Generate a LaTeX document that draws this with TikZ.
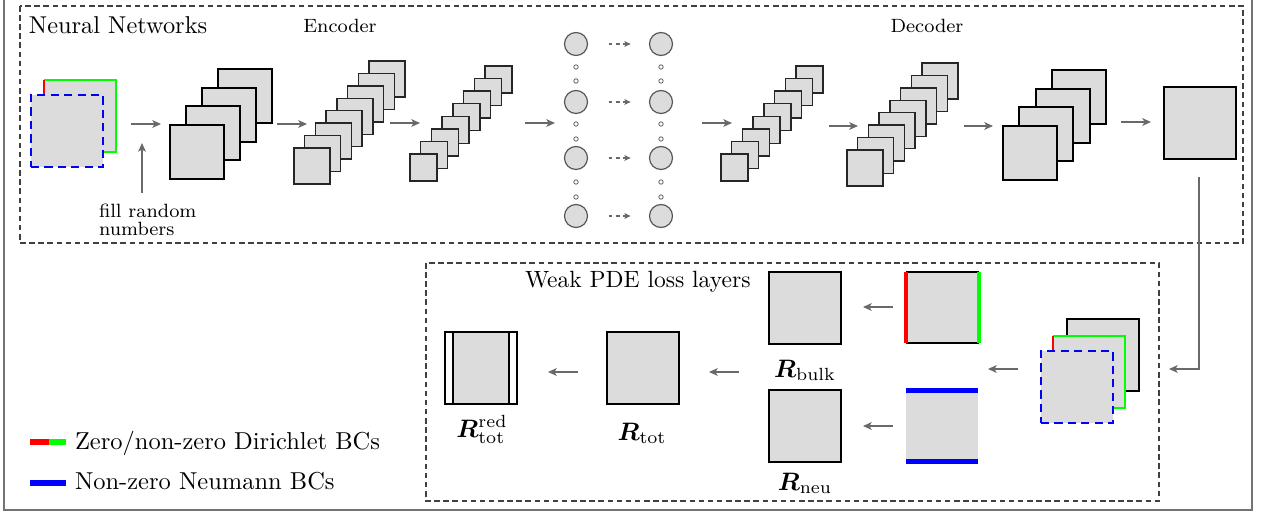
\RequirePackage{fix-cm}
\documentclass[tikz,border=0pt]{standalone}
\usepackage{bm}
\usepackage{fontspec}
\usetikzlibrary{arrows.meta}
\definecolor{fillg}{RGB}{220,220,220}
\definecolor{arrg}{RGB}{105,105,105}
\definecolor{bcgreen}{RGB}{0,255,0}
\definecolor{bcred}{RGB}{255,0,0}
\definecolor{bcblue}{RGB}{0,0,255}
\newcommand\pu{0.41667pt}
\begin{document}
\begin{tikzpicture}[x=0.41667pt,y=-0.41667pt,
  fmap/.style={draw=black, fill=fillg, line width=0.65pt, inner sep=0pt, outer sep=0pt, anchor=north west},
  thinmap/.style={fmap, line width=0.55pt, draw=black!85},
  arr/.style={draw=arrg, line width=0.6pt, -{Stealth[length=3.6pt,width=3.2pt,inset=0.9pt]}},
  darr/.style={draw=arrg, line width=0.5pt, dash pattern=on 1.6pt off 1.4pt, shorten <=8.5pt, shorten >=7.6pt, -{Stealth[length=2.6pt,width=2.4pt,inset=0.6pt]}},
  lat/.style={circle, draw=black!65, fill=fillg, line width=0.5pt, minimum size=23*\pu, inner sep=0pt},
  dotn/.style={circle, draw=black!60, fill=white, line width=0.35pt, minimum size=4.4*\pu, inner sep=0pt},
  boxdash/.style={draw=black!75, line width=0.45pt, dash pattern=on 2.3pt off 1.5pt},
  bcdash/.style={dash pattern=on 3.4pt off 2.2pt},
  txt/.style={inner sep=0pt, outer sep=0pt},
  rlab/.style={txt, anchor=base, font=\fontsize{10.5}{12}\selectfont}
]
\useasboundingbox (0,0) rectangle (1262,512);
% outer frame
\draw[black!55, line width=0.5pt] (4,0) -- (4,510) -- (1252,510) -- (1252,0);
% dashed boxes
\draw[boxdash] (20,6) rectangle (1243,243);
\draw[boxdash] (426,263) rectangle (1159,501);
% titles
\node[txt, anchor=base west, font=\fontsize{10.15}{12}\selectfont] (tnn) at (29,33) {Neural Networks};
\node[txt, anchor=base, font=\fontsize{8}{9.6}\selectfont] (tenc) at (340,32) {Encoder};
\node[txt, anchor=base, font=\fontsize{8}{9.6}\selectfont] (tdec) at (927,32) {Decoder};
\node[txt, anchor=base west, font=\fontsize{9.8}{11}\selectfont] (twk) at (525,287) {Weak PDE loss layers};
\node[txt, anchor=north west, align=left, font=\fontsize{8}{7.5}\selectfont] (tfill) at (99,204) {fill random\\numbers};
% input (top-left)
\node[fmap, draw=none, minimum size=72*\pu] (inb) at (44,80) {};
\draw[bcgreen, line width=1.2pt] (inb.north west) -- (inb.north east) -- (inb.south east) -- (inb.south west);
\draw[bcred, line width=1.2pt] (inb.north west) -- (inb.south west);
\node[fmap, draw=bcblue, line width=1.2pt, bcdash, minimum size=72*\pu] (inf) at (31,95) {};
% encoder stacks
\foreach \i in {3,2,1,0} \node[fmap, line width=0.7pt, minimum size=54*\pu] (sa\i) at ({170+16*\i},{125-18.67*\i}) {};
\foreach \i in {7,6,...,0} \node[thinmap, minimum size=36*\pu] (sb\i) at ({294+10.71*\i},{148-12.43*\i}) {};
\foreach \i in {7,6,...,0} \node[thinmap, minimum size=27*\pu] (sc\i) at ({410+10.71*\i},{154-12.57*\i}) {};
% latent
\foreach \j/\y in {1/44,2/102,3/158,4/216} {
  \node[lat] (l\j) at (576,\y) {};
  \node[lat] (r\j) at (661,\y) {};
  \draw[darr] (l\j) -- (r\j);
}
\foreach \y in {67,81,124,139,182,197} {
  \node[dotn] (dl\y) at (576,\y) {};
  \node[dotn] (dr\y) at (661,\y) {};
}
% decoder stacks
\foreach \i in {7,6,...,0} \node[thinmap, minimum size=27*\pu] (sd\i) at ({721+10.71*\i},{154-12.57*\i}) {};
\foreach \i in {7,6,...,0} \node[thinmap, minimum size=36*\pu] (se\i) at ({847+10.71*\i},{150-12.43*\i}) {};
\foreach \i in {3,2,1,0} \node[fmap, line width=0.7pt, minimum size=54*\pu] (sf\i) at ({1003+16.33*\i},{126-18.67*\i}) {};
% output
\node[fmap, line width=0.9pt, minimum size=72*\pu] (out) at (1164,87) {};
% bottom-right input stack
\node[fmap, line width=0.8pt, minimum size=72*\pu] (bib) at (1067,319) {};
\node[fmap, draw=none, minimum size=72*\pu] (bim) at (1053,336) {};
\draw[bcgreen, line width=1.2pt] (bim.north west) -- (bim.north east) -- (bim.south east) -- (bim.south west);
\draw[bcred, line width=1.2pt] (bim.north west) -- (bim.south west);
\node[fmap, draw=bcblue, line width=1.2pt, bcdash, minimum size=72*\pu] (bif) at (1041,351) {};
% bulk BC square
\node[fmap, draw=none, minimum width=73*\pu, minimum height=71*\pu] (bbc) at (906,272) {};
\draw[black, line width=0.7pt] (bbc.north west) -- (bbc.north east);
\draw[black, line width=0.7pt] (bbc.south west) -- (bbc.south east);
\draw[bcred, line width=2pt] (bbc.north west) -- (bbc.south west);
\draw[bcgreen, line width=2pt] (bbc.north east) -- (bbc.south east);
% Neumann BC square
\node[fmap, draw=none, minimum width=72*\pu, minimum height=76*\pu] (nbc) at (906,388) {};
\draw[bcblue, line width=2.1pt] ([yshift=-2.5*\pu]nbc.north west) -- ([yshift=-2.5*\pu]nbc.north east);
\draw[bcblue, line width=2.1pt] ([yshift=2.5*\pu]nbc.south west) -- ([yshift=2.5*\pu]nbc.south east);
% residual squares
\node[fmap, line width=0.8pt, minimum size=72*\pu] (rbulk) at (769,272) {};
\node[fmap, line width=0.8pt, minimum size=72*\pu] (rneu) at (769,390) {};
\node[fmap, line width=0.8pt, minimum size=72*\pu] (rtot) at (607,332) {};
\node[fmap, draw=none, fill=white, minimum size=72*\pu] (rred) at (445,332) {};
\fill[fillg] ([xshift=8*\pu]rred.north west) rectangle ([xshift=-8*\pu]rred.south east);
\draw[black, line width=0.45pt] ([xshift=8*\pu]rred.north west) -- ([xshift=8*\pu]rred.south west);
\draw[black, line width=0.45pt] ([xshift=-8*\pu]rred.north east) -- ([xshift=-8*\pu]rred.south east);
\draw[black, line width=0.8pt] (rred.north west) rectangle (rred.south east);
% labels
\node[rlab] (lbulk) at (805,377) {$\bm{R}_{\mathrm{bulk}}$};
\node[rlab] (lneu) at (805,490) {$\bm{R}_{\mathrm{neu}}$};
\node[rlab] (ltot) at (642,440) {$\bm{R}_{\mathrm{tot}}$};
\node[rlab] (lred) at (482,437) {$\bm{R}_{\mathrm{tot}}^{\mathrm{red}}$};
% arrows
\foreach \n/\xa/\ya/\xb/\yb in {a1/131/124/161/124, up/142/193/142/143, a2/277/124/307/124,
  a3/390/123/420/123, a4/525/123/555/123, a5/702/123/732/123, a6/829/126/858/126,
  a7/964/126/993/126, a8/1121/122/1151/122, b1/1018/369/988/369, b2/893/307/863/307,
  b3/893/426/863/426, b4/739/372/709/372, b5/578/372/548/372} {
  \coordinate (\n s) at (\xa,\ya);
  \coordinate (\n e) at (\xb,\yb);
  \draw[arr] (\n s) -- (\n e);
}
\coordinate (dns) at (1199,177);
\coordinate (dne) at (1169,369);
\draw[arr] (dns) |- (dne);
% legend
\coordinate (lg1) at (30,442); \coordinate (lg2) at (49,442); \coordinate (lg3) at (66,442);
\draw[bcred, line width=2.8pt] (lg1) -- (lg2);
\draw[bcgreen, line width=2.8pt] (lg2) -- (lg3);
\coordinate (lg4) at (30,483); \coordinate (lg5) at (66,483);
\draw[bcblue, line width=2.8pt] (lg4) -- (lg5);
\node[txt, anchor=base west, font=\fontsize{10.2}{12}\selectfont] (ldir) at (75,449) {Zero/non-zero Dirichlet BCs};
\node[txt, anchor=base west, font=\fontsize{10.2}{12}\selectfont] (lneum) at (75,489) {Non-zero Neumann BCs};
\end{tikzpicture}
\end{document}
